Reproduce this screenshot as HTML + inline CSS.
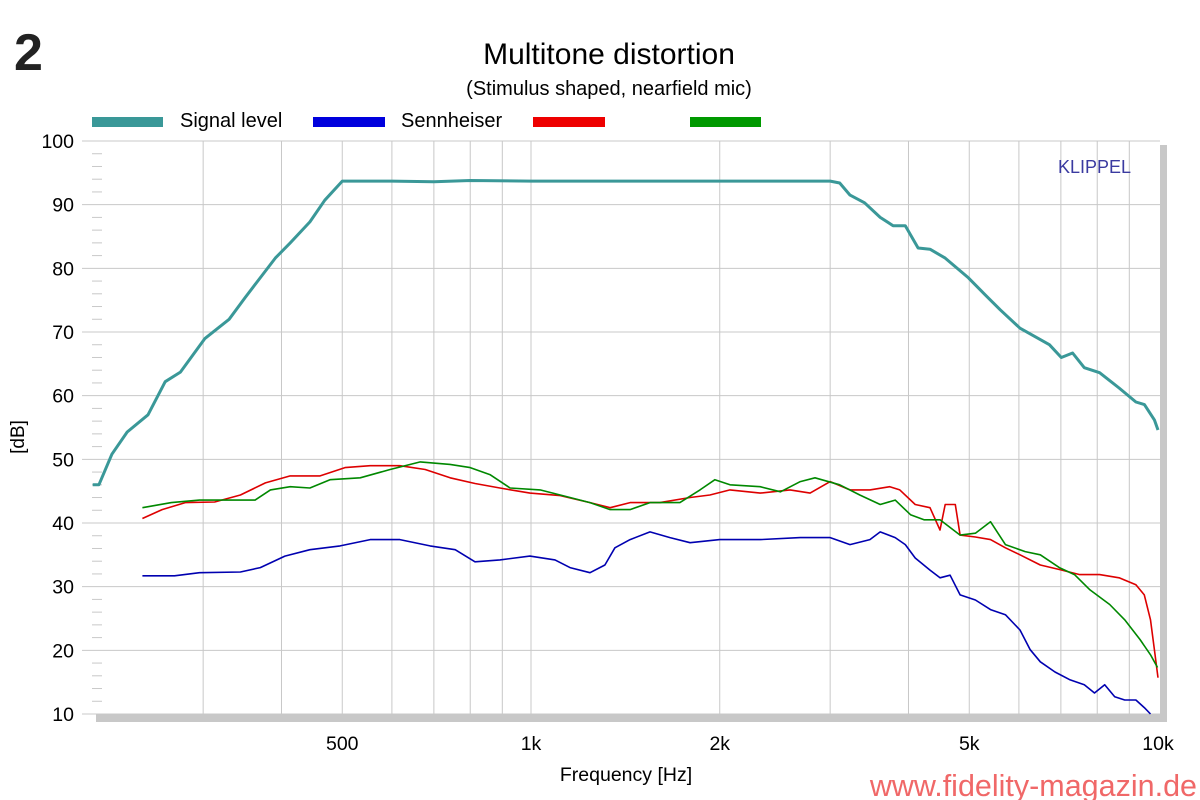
<!DOCTYPE html>
<html><head><meta charset="utf-8"><style>
body{margin:0;background:#fff;}
svg{display:block;font-family:"Liberation Sans",Arial,sans-serif;}
</style></head><body>
<svg id="chart" width="1200" height="800">
<text x="14" y="70" font-size="52" font-weight="bold" fill="#222">2</text>
<text x="609" y="64" font-size="30" text-anchor="middle" fill="#000">Multitone distortion</text>
<text x="609" y="95" font-size="20" text-anchor="middle" fill="#000">(Stimulus shaped, nearfield mic)</text>
<g>
<rect x="92" y="117" width="71" height="10" fill="#3a9898"/>
<text x="180" y="127" font-size="20">Signal level</text>
<rect x="313" y="117" width="72" height="10" fill="#0000dd"/>
<text x="401" y="127" font-size="20">Sennheiser</text>
<rect x="533" y="117" width="72" height="10" fill="#ee0000"/>
<rect x="690" y="117" width="71" height="10" fill="#009900"/>
</g>
<rect x="96" y="145" width="1071" height="577" fill="#c8c8c8"/>
<rect x="92" y="141" width="1068" height="573" fill="#fff"/>
<g id="grid"></g>
<g id="series"></g>
<text x="1058" y="173" font-size="18" fill="#3a3aa0">KLIPPEL</text>
<text transform="translate(24,437) rotate(-90)" font-size="19" text-anchor="middle">[dB]</text>
<text x="626" y="781" font-size="19.5" text-anchor="middle">Frequency [Hz]</text>
<text x="1197" y="796" font-size="30.5" text-anchor="end" fill="#f06868">www.fidelity-magazin.de</text>
</svg>
<script>
const yTicks=[10,20,30,40,50,60,70,80,90,100];
const xGrid=[300,400,500,600,700,800,900,1000,2000,3000,4000,5000,6000,7000,8000,9000];
const xLabelVals=[500,1000,2000,5000,10000];
const xLabelText=["500","1k","2k","5k","10k"];
const sigF=[200,204.6,214.6,227,245,261,276,302,330,350,391,413,444,469,500,600,700,800,1000,1200,1500,2000,2500,3000,3107,3227,3405,3605,3780,3953,4143,4329,4577,4986,5305,5600,6025,6710,7010,7308,7628,8070,8670,9220,9512,9870,10000];
const sigDb=[46,46,50.8,54.3,57,62.2,63.7,69,72,75.4,81.6,84,87.3,90.7,93.7,93.7,93.6,93.8,93.7,93.7,93.7,93.7,93.7,93.7,93.4,91.5,90.3,88,86.7,86.7,83.2,83,81.6,78.5,75.8,73.5,70.6,68,66,66.7,64.4,63.6,61.2,59,58.6,56.2,54.6];
const senF=[240,270,296,344,370,405,444,496,554,618,690,757,814,892,996,1092,1154,1242,1312,1361,1439,1548,1666,1794,2000,2320,2688,3000,3227,3472,3605,3810,3953,4100,4329,4490,4660,4834,5114,5405,5710,6025,6255,6490,6850,7225,7628,7920,8222,8530,8850,9220,9510,9730];
const senDb=[31.7,31.7,32.2,32.3,33,34.8,35.8,36.4,37.4,37.4,36.4,35.8,33.9,34.2,34.8,34.2,33,32.2,33.4,36.1,37.4,38.6,37.7,36.9,37.4,37.4,37.7,37.7,36.6,37.4,38.6,37.7,36.6,34.5,32.6,31.4,31.8,28.7,27.9,26.4,25.6,23.2,20.1,18.2,16.6,15.4,14.6,13.3,14.6,12.7,12.2,12.2,11,10];
const redF=[240,258,281,313,344,377,413,461,505,554,618,678,743,814,892,996,1113,1242,1337,1439,1606,1794,1929,2077,2320,2590,2787,3000,3227,3472,3735,3875,4100,4329,4490,4577,4750,4834,5114,5405,5710,6025,6490,6960,7500,8070,8670,9220,9510,9730,9870,10000];
const redDb=[40.7,42.1,43.2,43.3,44.4,46.3,47.4,47.4,48.7,49,49,48.4,47.1,46.2,45.5,44.7,44.3,43.2,42.4,43.2,43.2,44,44.4,45.2,44.7,45.2,44.7,46.5,45.2,45.2,45.7,45.2,42.9,42.4,38.9,42.9,42.9,38.1,37.8,37.4,36.1,35,33.4,32.7,31.9,31.9,31.4,30.3,28.7,24.8,20.1,15.7];
const grnF=[240,267,296,332,363,384,413,444,478,534,596,666,743,800,860,926,1034,1154,1242,1337,1439,1548,1728,1860,1965,2077,2320,2500,2688,2838,3107,3345,3605,3810,4030,4235,4490,4834,5114,5405,5710,6140,6490,6960,7360,7790,8375,8850,9360,9730,9980];
const grnDb=[42.4,43.2,43.6,43.6,43.6,45.2,45.7,45.5,46.8,47.1,48.4,49.6,49.2,48.7,47.6,45.5,45.2,44,43.2,42.1,42.1,43.2,43.2,45.2,46.8,46,45.7,44.9,46.5,47.1,46,44.4,42.9,43.6,41.3,40.5,40.5,38.1,38.4,40.2,36.6,35.5,35,33,31.9,29.5,27.2,24.8,21.7,19.3,17.3];

const NS="http://www.w3.org/2000/svg";
const X0=92,X1=1160,Y0=141,Y1=714;
function xs(f){return 531+627*Math.log10(f/1000);}
function ys(d){return Y1-(d-10)/90*(Y1-Y0);}
const grid=document.getElementById('grid'),ser=document.getElementById('series'),svg=document.getElementById('chart');
function mk(tag,attrs,parent){const e=document.createElementNS(NS,tag);for(const k in attrs)e.setAttribute(k,attrs[k]);parent.appendChild(e);return e;}
xGrid.forEach(f=>{
  const l=mk('line',{x1:xs(f),x2:xs(f),y1:Y0,y2:Y1,stroke:'#c8c8c8','stroke-width':1},grid);
  
  
});
yTicks.forEach(v=>{
  const l=mk('line',{x1:X0-10,x2:X1,y1:ys(v),y2:ys(v),stroke:'#c8c8c8','stroke-width':1},grid);
  
  
  const t=mk('text',{x:74,y:ys(v)+7,'font-size':19.5,'text-anchor':'end',fill:'#000'},svg);
  t.textContent=v;
  
  
  if(v<100){for(let m=2;m<10;m+=2){
    const mt=mk('line',{x1:X0,x2:X0+10,y1:ys(v+m),y2:ys(v+m),stroke:'#c8c8c8'},grid);
    
    
  }}
});
xLabelVals.forEach((f,i)=>{
  const t=mk('text',{x:xs(f),y:750,'font-size':19.5,'text-anchor':'middle',fill:'#000'},svg);
  t.textContent=xLabelText[i];
  
  
});
function line(F,D,color,w,name){
  const pts=F.map((f,i)=>xs(f).toFixed(1)+','+ys(D[i]).toFixed(1)).join(' ');
  const p=mk('polyline',{points:pts,fill:'none',stroke:color,'stroke-width':w,'stroke-linejoin':'round'},ser);
  
  
}
line(sigF,sigDb,'#3a9898',3,'signal-level-line');
line(senF,senDb,'#0000b0',1.6,'sennheiser-line');
line(redF,redDb,'#dd0000',1.6,'red-distortion-line');
line(grnF,grnDb,'#008800',1.6,'green-distortion-line');
</script>
</body></html>
